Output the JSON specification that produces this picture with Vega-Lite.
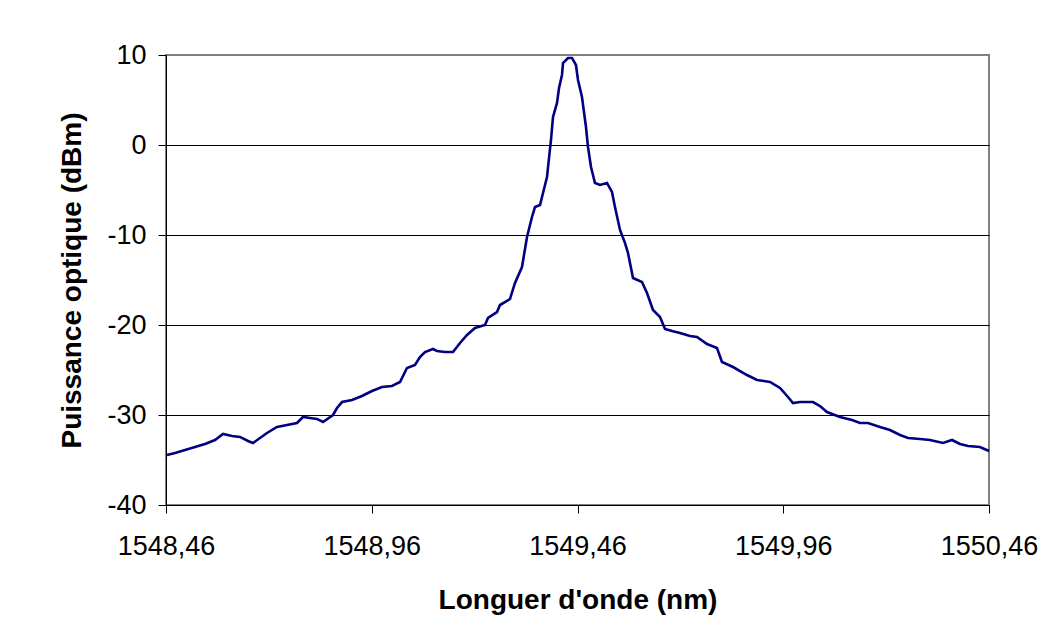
{
  "$schema": "https://vega.github.io/schema/vega-lite/v6.json",
  "width": 823,
  "height": 450,
  "autosize": {"type": "none"},
  "padding": {"left": 166, "top": 55, "right": 69, "bottom": 136},
  "background": "white",
  "config": {
    "font": "Liberation Sans",
    "view": {"stroke": "#808080", "strokeWidth": 2},
    "axis": {"labelFont": "Liberation Sans", "titleFont": "Liberation Sans", "labelColor": "black", "titleColor": "black", "domainColor": "black", "tickColor": "black"}
  },
  "data": {
    "values": [
      {"nm": 1548.4624, "dbm": -34.44}, {"nm": 1548.4819, "dbm": -34.22}, {"nm": 1548.5062, "dbm": -33.89},
      {"nm": 1548.5305, "dbm": -33.56}, {"nm": 1548.5548, "dbm": -33.22}, {"nm": 1548.5791, "dbm": -32.78},
      {"nm": 1548.5985, "dbm": -32.11}, {"nm": 1548.6204, "dbm": -32.33}, {"nm": 1548.6398, "dbm": -32.44},
      {"nm": 1548.6593, "dbm": -32.89}, {"nm": 1548.6714, "dbm": -33.11}, {"nm": 1548.6884, "dbm": -32.56},
      {"nm": 1548.7054, "dbm": -32.0}, {"nm": 1548.7297, "dbm": -31.33}, {"nm": 1548.754, "dbm": -31.11},
      {"nm": 1548.7783, "dbm": -30.89}, {"nm": 1548.7929, "dbm": -30.22}, {"nm": 1548.8099, "dbm": -30.33},
      {"nm": 1548.827, "dbm": -30.44}, {"nm": 1548.8415, "dbm": -30.78}, {"nm": 1548.8658, "dbm": -30.0},
      {"nm": 1548.8756, "dbm": -29.22}, {"nm": 1548.8877, "dbm": -28.56}, {"nm": 1548.912, "dbm": -28.33},
      {"nm": 1548.9363, "dbm": -27.89}, {"nm": 1548.9606, "dbm": -27.33}, {"nm": 1548.9849, "dbm": -26.89},
      {"nm": 1549.0092, "dbm": -26.78}, {"nm": 1549.0287, "dbm": -26.33}, {"nm": 1549.0456, "dbm": -24.78},
      {"nm": 1549.0651, "dbm": -24.44}, {"nm": 1549.0772, "dbm": -23.56}, {"nm": 1549.0894, "dbm": -23.0},
      {"nm": 1549.1088, "dbm": -22.67}, {"nm": 1549.1186, "dbm": -22.89}, {"nm": 1549.138, "dbm": -23.0},
      {"nm": 1549.1575, "dbm": -23.0}, {"nm": 1549.1745, "dbm": -22.0}, {"nm": 1549.1915, "dbm": -21.11},
      {"nm": 1549.2109, "dbm": -20.33}, {"nm": 1549.2352, "dbm": -20.0}, {"nm": 1549.2425, "dbm": -19.22},
      {"nm": 1549.2644, "dbm": -18.56}, {"nm": 1549.2717, "dbm": -17.78}, {"nm": 1549.296, "dbm": -17.11},
      {"nm": 1549.3081, "dbm": -15.33}, {"nm": 1549.3251, "dbm": -13.56}, {"nm": 1549.3373, "dbm": -10.22},
      {"nm": 1549.3494, "dbm": -8.0}, {"nm": 1549.3567, "dbm": -6.89}, {"nm": 1549.3689, "dbm": -6.67},
      {"nm": 1549.3762, "dbm": -5.33}, {"nm": 1549.3859, "dbm": -3.56}, {"nm": 1549.3908, "dbm": -1.44},
      {"nm": 1549.3956, "dbm": 0.56}, {"nm": 1549.4005, "dbm": 3.11}, {"nm": 1549.4102, "dbm": 4.67},
      {"nm": 1549.4151, "dbm": 6.33}, {"nm": 1549.4223, "dbm": 7.78}, {"nm": 1549.4248, "dbm": 9.11},
      {"nm": 1549.4369, "dbm": 9.67}, {"nm": 1549.4466, "dbm": 9.67}, {"nm": 1549.4563, "dbm": 8.89},
      {"nm": 1549.4612, "dbm": 7.22}, {"nm": 1549.4709, "dbm": 5.33}, {"nm": 1549.4806, "dbm": 2.0},
      {"nm": 1549.4855, "dbm": -0.22}, {"nm": 1549.4928, "dbm": -2.44}, {"nm": 1549.5025, "dbm": -4.22},
      {"nm": 1549.5147, "dbm": -4.44}, {"nm": 1549.5317, "dbm": -4.22}, {"nm": 1549.5438, "dbm": -5.22},
      {"nm": 1549.5511, "dbm": -6.89}, {"nm": 1549.5633, "dbm": -9.44}, {"nm": 1549.5754, "dbm": -10.89},
      {"nm": 1549.5827, "dbm": -12.0}, {"nm": 1549.5949, "dbm": -14.78}, {"nm": 1549.6167, "dbm": -15.22},
      {"nm": 1549.6289, "dbm": -16.44}, {"nm": 1549.6435, "dbm": -18.33}, {"nm": 1549.6605, "dbm": -19.11},
      {"nm": 1549.6726, "dbm": -20.44}, {"nm": 1549.6896, "dbm": -20.67}, {"nm": 1549.7091, "dbm": -20.89},
      {"nm": 1549.7334, "dbm": -21.22}, {"nm": 1549.7504, "dbm": -21.33}, {"nm": 1549.7747, "dbm": -22.11},
      {"nm": 1549.799, "dbm": -22.56}, {"nm": 1549.8111, "dbm": -24.11}, {"nm": 1549.8379, "dbm": -24.67},
      {"nm": 1549.8719, "dbm": -25.56}, {"nm": 1549.8962, "dbm": -26.11}, {"nm": 1549.9278, "dbm": -26.33},
      {"nm": 1549.9521, "dbm": -27.0}, {"nm": 1549.9715, "dbm": -28.0}, {"nm": 1549.9837, "dbm": -28.67},
      {"nm": 1550.0007, "dbm": -28.56}, {"nm": 1550.0323, "dbm": -28.56}, {"nm": 1550.0493, "dbm": -29.0},
      {"nm": 1550.0663, "dbm": -29.67}, {"nm": 1550.0979, "dbm": -30.22}, {"nm": 1550.1271, "dbm": -30.56},
      {"nm": 1550.1465, "dbm": -30.89}, {"nm": 1550.166, "dbm": -30.89}, {"nm": 1550.1951, "dbm": -31.33},
      {"nm": 1550.2194, "dbm": -31.67}, {"nm": 1550.2437, "dbm": -32.22}, {"nm": 1550.2632, "dbm": -32.56},
      {"nm": 1550.2923, "dbm": -32.67}, {"nm": 1550.3166, "dbm": -32.78}, {"nm": 1550.3482, "dbm": -33.11},
      {"nm": 1550.3701, "dbm": -32.78}, {"nm": 1550.3895, "dbm": -33.22}, {"nm": 1550.4089, "dbm": -33.44},
      {"nm": 1550.4381, "dbm": -33.56}, {"nm": 1550.46, "dbm": -34.0}
    ]
  },
  "mark": {"type": "line", "color": "#000080", "strokeWidth": 2.6},
  "encoding": {
    "x": {
      "field": "nm", "type": "quantitative",
      "scale": {"domain": [1548.46, 1550.46], "nice": false, "zero": false},
      "axis": {
        "values": [1548.46, 1548.96, 1549.46, 1549.96, 1550.46],
        "labelExpr": "replace(format(datum.value, '.2f'), '.', ',')",
        "labelFlush": false, "labelOverlap": false,
        "grid": false, "tickSize": 8, "labelPadding": 20, "labelFontSize": 27,
        "domainWidth": 1, "tickWidth": 1,
        "title": "Longuer d'onde (nm)", "titleFontSize": 28, "titleFontWeight": "bold", "titlePadding": 27
      }
    },
    "y": {
      "field": "dbm", "type": "quantitative",
      "scale": {"domain": [-40, 10], "nice": false},
      "axis": {
        "values": [-40, -30, -20, -10, 0, 10],
        "labelExpr": "'' + datum.value",
        "grid": true, "gridColor": {"condition": {"test": "datum.value == 10", "value": "#808080"}, "value": "black"}, "gridWidth": 1,
        "tickSize": 8, "labelPadding": 12, "labelFontSize": 27,
        "domainWidth": 1, "tickWidth": 1,
        "title": "Puissance optique (dBm)", "titleFontSize": 28, "titleFontWeight": "bold", "titlePadding": 20
      }
    }
  }
}
